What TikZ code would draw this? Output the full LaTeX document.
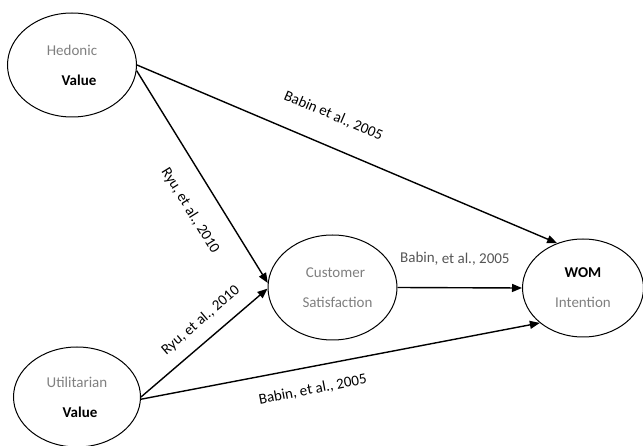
\documentclass[tikz,border=0pt]{standalone}
\usepackage{fontspec}
\setmainfont{Carlito}
\usetikzlibrary{shapes.geometric,arrows.meta}
\definecolor{txtgray}{HTML}{7F7F7F}
\definecolor{lblgray}{HTML}{555555}
\tikzset{
  construct/.style={draw=black, line width=1pt, ellipse, align=center,
    text=txtgray, font=\fontsize{15}{30}\selectfont, inner sep=0pt},
  link/.style={line width=1.4pt, -{Triangle[length=10pt,width=8pt]}},
  cite/.style={font=\fontsize{15}{18}\selectfont, inner sep=0pt, sloped, text=black},
  dark/.style={text=black, font=\fontsize{15}{18}\selectfont\bfseries}
}
\begin{document}
\begin{tikzpicture}[x=1pt,y=-1pt]
\useasboundingbox (0,0) rectangle (643,446);
\node[construct, minimum width=129pt, minimum height=104pt] (hed) at (72,65)
  {Hedonic\\\hspace*{14pt}\textcolor{black}{\bfseries Value}};
\node[construct, minimum width=127pt, minimum height=100pt] (util) at (77,397)
  {Utilitarian\\\hspace*{6pt}\textcolor{black}{\bfseries Value}};
\node[construct, minimum width=129pt, minimum height=105pt] (cs) at (332.5,287.5)
  {\hspace*{6pt}Customer\\\hspace*{10pt}Satisfaction};
\node[construct, minimum width=121pt, minimum height=98pt] (wom) at (583,288)
  {\textcolor{black}{\bfseries WOM}\\Intention};

\draw[link] (hed.east) -- node[cite, pos=0.44, above=23pt] {Babin et al., 2005} (wom.120);
\draw[link] (hed.-5) -- node[cite, pos=0.59, below=21pt] {Ryu, et al., 2010} (cs.176);
\draw[link] (util.east) -- node[cite, pos=0.57, above=12pt] {Ryu, et al., 2010} (cs.181);
\draw[link] (cs.east) -- node[cite, pos=0.46, above=22pt, text=lblgray] {Babin, et al., 2005} (wom.west);
\draw[link] (util.-2) -- node[cite, pos=0.42, below=16pt] {Babin, et al., 2005} (wom.219);
\end{tikzpicture}
\end{document}
